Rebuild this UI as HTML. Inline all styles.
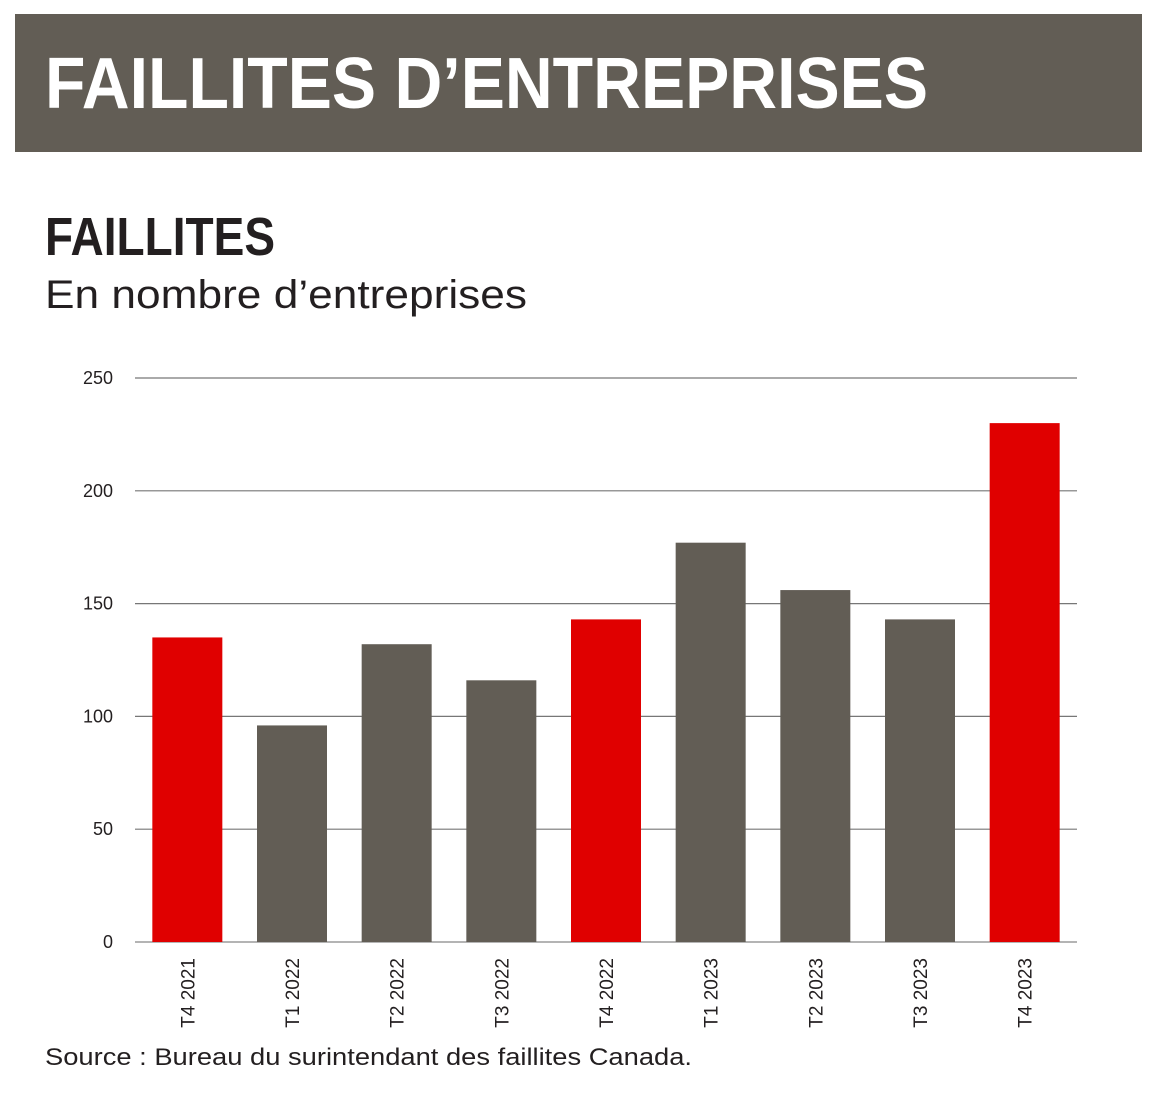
<!DOCTYPE html>
<html><head><meta charset="utf-8"><style>
html,body{margin:0;padding:0;background:#fff;width:1164px;height:1116px;overflow:hidden}
svg{display:block;font-family:"Liberation Sans",sans-serif}
</style></head><body>
<svg id="chart" width="1164" height="1116" viewBox="0 0 1164 1116">
<rect x="15" y="14" width="1127" height="138" fill="#625d55"/>
<text x="45" y="108" font-size="72" font-weight="bold" fill="#fff" textLength="883" lengthAdjust="spacingAndGlyphs">FAILLITES D’ENTREPRISES</text>
<text x="45" y="255" font-size="54" font-weight="bold" fill="#231f20" textLength="230" lengthAdjust="spacingAndGlyphs">FAILLITES</text>
<text x="45" y="308" font-size="40" fill="#231f20" textLength="482" lengthAdjust="spacingAndGlyphs">En nombre d’entreprises</text>
<g id="grid"></g><g id="bars"></g><g id="xlabels"></g>
<text x="45" y="1065" font-size="24" fill="#231f20" textLength="647" lengthAdjust="spacingAndGlyphs">Source : Bureau du surintendant des faillites Canada.</text>
</svg>
<script>
const categories=["T4 2021","T1 2022","T2 2022","T3 2022","T4 2022","T1 2023","T2 2023","T3 2023","T4 2023"];
const values=[135,96,132,116,143,177,156,143,230];
const highlighted=[true,false,false,false,true,false,false,false,true];
const yTicks=[0,50,100,150,200,250];
const NS="http://www.w3.org/2000/svg";
const x0=135,x1=1077,yBase=942,yTop=378,yMax=250;
const band=(x1-x0)/categories.length;
const y=v=>yBase-(v/yMax)*(yBase-yTop);
const xb=i=>x0+i*band;
function mk(tag,attrs,parent){const e=document.createElementNS(NS,tag);for(const k in attrs)e.setAttribute(k,attrs[k]);parent.appendChild(e);return e;}
const g=document.getElementById('grid');
yTicks.forEach(t=>{
 const l=mk('line',{x1:x0,x2:x1,y1:y(t),y2:y(t),stroke:t===0?'#888':'#777','stroke-width':1.2},g);
 
 
 const tx=mk('text',{x:113,y:y(t)+6,'font-size':18,'text-anchor':'end',fill:'#231f20'},g);
 tx.textContent=t;
 
 
});
const b=document.getElementById('bars'),xl=document.getElementById('xlabels');
const bw=70;
values.forEach((v,i)=>{
 const bx=xb(i)+(band-bw)/2;
 const r=mk('rect',{x:bx,y:y(v),width:bw,height:yBase-y(v),fill:highlighted[i]?'#e00000':'#625d55'},b);
 
 
 const cx=bx+bw/2+7,cy=958;
 const t=mk('text',{x:cx,y:cy,'font-size':19,'text-anchor':'end',fill:'#231f20',transform:`rotate(-90 ${cx} ${cy})`},xl);
 t.textContent=categories[i];
 
 
});
</script>
</body></html>
